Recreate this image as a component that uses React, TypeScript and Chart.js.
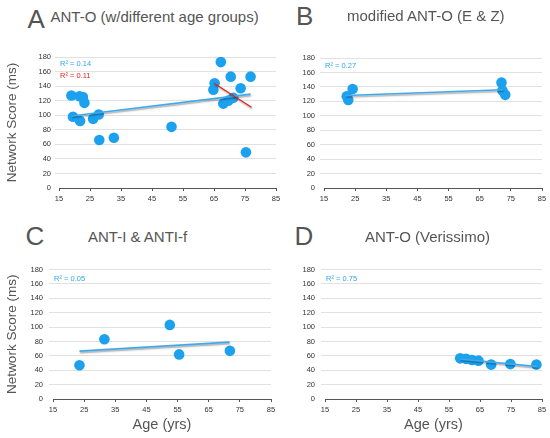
import React, { useEffect, useRef } from "react";
import { Chart, registerables } from "chart.js";

Chart.register(...registerables);

// ---------- Data ----------
const ageA = [19, 19.5, 21.6, 22.7, 23.2, 21.8, 26, 27.8, 28, 32.7, 51.3, 64.8, 65.2, 67.2, 68, 69.6, 71.2, 70.4, 73.6, 75.3, 76.8];
const scoreA = [127, 98, 126, 125, 117, 92, 95, 101, 66, 69, 84, 135, 144, 173, 116, 120, 124, 153, 137, 49, 153];
const trendAllAgeA = [19, 76.8];
const trendAllScoreA = [99, 129];
const trendOldAgeA = [65, 77.1];
const trendOldScoreA = [144, 111];

const ageB = [22.3, 22.8, 24.2, 72, 72.3, 73.2];
const scoreB = [127, 122, 137, 146, 135, 129];
const trendAgeB = [22, 72.5];
const trendScoreB = [128, 136];

const ageC = [23.5, 31.5, 52.5, 55.5, 71.8];
const scoreC = [47, 83, 103, 62, 67];
const trendAgeC = [23.5, 71.7];
const trendScoreC = [66.5, 79];

const ageD = [58.6, 60.5, 62.4, 64.5, 68.6, 74.8, 83.2];
const scoreD = [56.5, 55.8, 54.2, 53.3, 47.8, 48.5, 48];
const trendAgeD = [58.6, 83.5];
const trendScoreD = [55.5, 45];

const panelLetters = ["A", "B", "C", "D"];
const panelTitles = ["ANT-O (w/different age groups)", "modified ANT-O (E & Z)", "ANT-I & ANTI-f", "ANT-O (Verissimo)"];
const r2Blue = ["R\u00B2 = 0.14", "R\u00B2 = 0.27", "R\u00B2 = 0.05", "R\u00B2 = 0.75"];
const r2Red = ["R\u00B2 = 0.11", "", "", ""];

const xMin = 15, xMax = 85, xStep = 10;
const yMin = 0, yMax = 180, yStep = 20;
const yTitle = "Network Score (ms)";
const xTitle = "Age (yrs)";

const BLUE = "#1BA1EE";
const TREND_BLUE = "#3FA9EC";
const RED = "#E2231A";
const FONT = "'Liberation Sans', Arial, Helvetica, sans-serif";

const toPts = (xs: number[], ys: number[]) => xs.map((x, i) => ({ x, y: ys[i] }));

type PanelSpec = {
  idx: number;
  left: number; top: number; width: number; height: number;
  yAxisW: number; xAxisH: number; yPad: number;
  padRight: number; padTop: number;
  showYTitle: boolean; showXTitle: boolean;
  points: { x: number; y: number }[];
  trends: { pts: { x: number; y: number }[]; color: string; width: number }[];
};

const shadowPlugin = {
  id: "trendShadow",
  beforeDatasetDraw(chart: any, args: any) {
    const ds = chart.data.datasets[args.index];
    if (ds && ds.isTrend) {
      const ctx = chart.ctx;
      ctx.save();
      ctx.shadowColor = "rgba(0,0,0,0.35)";
      ctx.shadowOffsetY = 1.5;
      ctx.shadowOffsetX = 0.5;
      ctx.shadowBlur = 1.5;
    }
  },
  afterDatasetDraw(chart: any, args: any) {
    const ds = chart.data.datasets[args.index];
    if (ds && ds.isTrend) chart.ctx.restore();
  },
};

function makeR2Plugin(idx: number) {
  return {
    id: "r2labels" + idx,
    afterDraw(chart: any) {
      const { ctx, chartArea } = chart;
      ctx.save();
      ctx.font = `7.5px ${FONT}`;
      ctx.textBaseline = "middle";
      ctx.textAlign = "left";
      const dy = idx === 0 ? 7 : idx === 1 ? 7.5 : 9;
      if (r2Blue[idx]) {
        ctx.fillStyle = "#2FA6EE";
        ctx.fillText(r2Blue[idx], chartArea.left + 1, chartArea.top + dy);
      }
      if (r2Red[idx]) {
        ctx.fillStyle = RED;
        ctx.fillText(r2Red[idx], chartArea.left + 1, chartArea.top + dy + 12);
      }
      ctx.restore();
    },
  };
}

function Panel({ spec }: { spec: PanelSpec }) {
  const ref = useRef<HTMLCanvasElement | null>(null);
  useEffect(() => {
    if (!ref.current) return;
    const datasets: any[] = spec.trends.map((t) => ({
      type: "scatter",
      data: t.pts,
      showLine: true,
      borderColor: t.color,
      borderWidth: t.width,
      pointRadius: 0,
      isTrend: true,
    }));
    datasets.push({
      type: "scatter",
      data: spec.points,
      backgroundColor: BLUE,
      borderWidth: 0,
      pointRadius: 5.3,
      pointHoverRadius: 5.3,
    });
    const chart = new Chart(ref.current, {
      type: "scatter",
      data: { datasets },
      plugins: [shadowPlugin, makeR2Plugin(spec.idx)],
      options: {
        animation: false,
        responsive: true,
        maintainAspectRatio: false,
        events: [],
        layout: { padding: { left: 0, right: spec.padRight, top: spec.padTop, bottom: 0 } },
        plugins: { legend: { display: false }, tooltip: { enabled: false }, title: { display: false } },
        scales: {
          x: {
            type: "linear",
            min: xMin,
            max: xMax,
            afterFit: (s: any) => { s.height = spec.xAxisH; },
            afterBuildTicks: (s: any) => {
              const t = [];
              for (let v = xMin; v <= xMax; v += xStep) t.push({ value: v });
              s.ticks = t;
            },
            grid: { drawOnChartArea: false, drawTicks: true, tickLength: 3, color: "#555", lineWidth: 1 },
            border: { display: true, color: "#555", width: 1 },
            ticks: { padding: 3, color: "#333", font: { size: 7.5, family: FONT }, maxRotation: 0, autoSkip: false },
            title: {
              display: spec.showXTitle,
              text: xTitle,
              color: "#555",
              font: { size: 14.5, family: FONT },
              padding: { top: 0, bottom: 4 },
            },
          },
          y: {
            type: "linear",
            min: yMin,
            max: yMax,
            afterFit: (s: any) => { s.width = spec.yAxisW; },
            ticks: { stepSize: yStep, padding: spec.yPad, color: "#333", font: { size: 7.5, family: FONT } },
            grid: {
              drawTicks: true,
              tickLength: 4,
              color: (c: any) => (c.tick && c.tick.value === 0 ? "rgba(0,0,0,0)" : "#e1e1e1"),
              lineWidth: 1,
            },
            border: { display: false },
            title: {
              display: spec.showYTitle,
              text: yTitle,
              color: "#555",
              font: { size: 13.5, family: FONT },
              padding: { top: 4, bottom: 0 },
            },
          },
        },
      } as any,
    });
    return () => chart.destroy();
  }, [spec]);
  return (
    <div style={{ position: "absolute", left: spec.left, top: spec.top, width: spec.width, height: spec.height }}>
      <canvas ref={ref} />
    </div>
  );
}

const specs: PanelSpec[] = [
  {
    idx: 0, left: 0, top: 47, width: 285, height: 161, yAxisW: 59, xAxisH: 20, yPad: 4,
    padRight: 9, padTop: 10, showYTitle: true, showXTitle: false,
    points: toPts(ageA, scoreA),
    trends: [
      { pts: toPts(trendOldAgeA, trendOldScoreA), color: RED, width: 1.3 },
      { pts: toPts(trendAllAgeA, trendAllScoreA), color: TREND_BLUE, width: 1.6 },
    ],
  },
  {
    idx: 1, left: 270, top: 48, width: 280, height: 160, yAxisW: 54, xAxisH: 20, yPad: 5,
    padRight: 8, padTop: 10, showYTitle: false, showXTitle: false,
    points: toPts(ageB, scoreB),
    trends: [{ pts: toPts(trendAgeB, trendScoreB), color: TREND_BLUE, width: 1.6 }],
  },
  {
    idx: 2, left: 0, top: 259, width: 280, height: 179, yAxisW: 53, xAxisH: 39, yPad: 6,
    padRight: 9, padTop: 10, showYTitle: true, showXTitle: true,
    points: toPts(ageC, scoreC),
    trends: [{ pts: toPts(trendAgeC, trendScoreC), color: TREND_BLUE, width: 1.6 }],
  },
  {
    idx: 3, left: 270, top: 259, width: 280, height: 179, yAxisW: 55, xAxisH: 39, yPad: 6,
    padRight: 8, padTop: 10, showYTitle: false, showXTitle: true,
    points: toPts(ageD, scoreD),
    trends: [{ pts: toPts(trendAgeD, trendScoreD), color: TREND_BLUE, width: 1.6 }],
  },
];

const letterPos = [
  { left: 27.5, top: 6.3 },
  { left: 296, top: 3 },
  { left: 25.5, top: 222.7 },
  { left: 294.5, top: 222.7 },
];
const titlePos = [
  { left: 50.5, top: 8.5 },
  { left: 347, top: 8 },
  { left: 88, top: 229 },
  { left: 365, top: 229 },
];

export default function App() {
  return (
    <div style={{ position: "absolute", left: 0, top: 0, width: 550, height: 438, background: "#fff", overflow: "hidden", fontFamily: FONT }}>
      {specs.map((s) => (
        <Panel key={s.idx} spec={s} />
      ))}
      {panelLetters.map((l, i) => (
        <div key={"l" + i} style={{ position: "absolute", left: letterPos[i].left, top: letterPos[i].top, fontSize: 26, lineHeight: 1, color: "#555", whiteSpace: "nowrap" }}>
          {l}
        </div>
      ))}
      {panelTitles.map((t, i) => (
        <div key={"t" + i} style={{ position: "absolute", left: titlePos[i].left, top: titlePos[i].top, fontSize: 15, lineHeight: 1, color: "#555", whiteSpace: "nowrap" }}>
          {t}
        </div>
      ))}
    </div>
  );
}
